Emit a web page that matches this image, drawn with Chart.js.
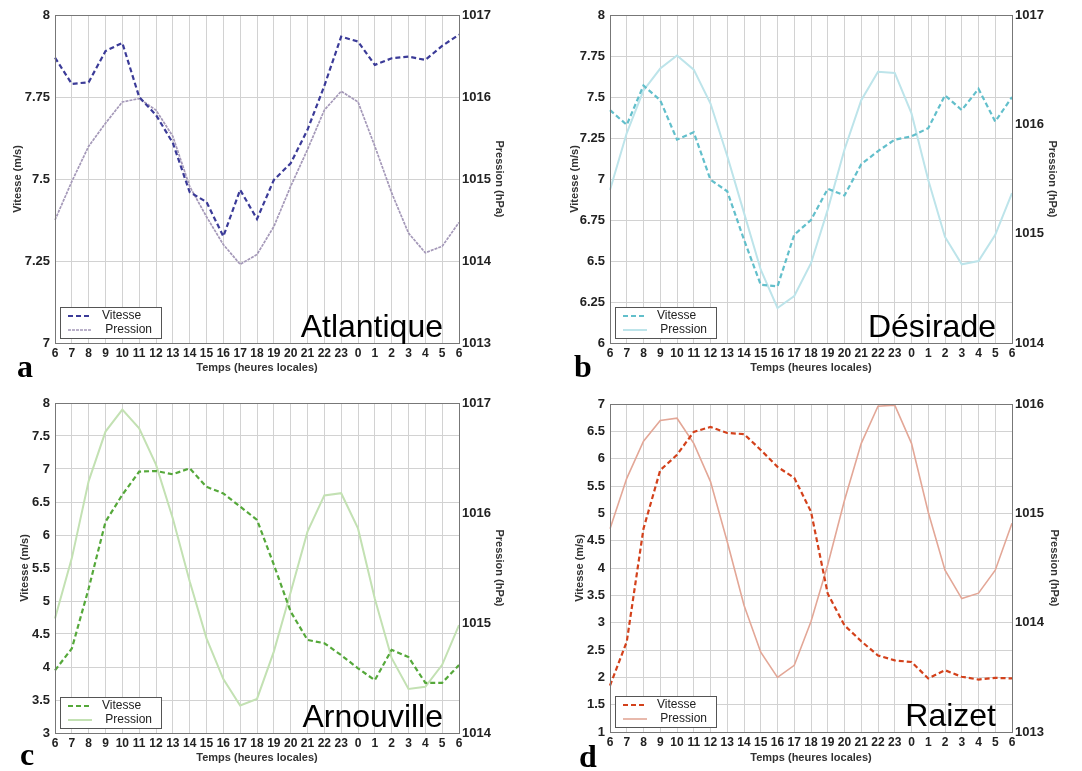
<!DOCTYPE html>
<html>
<head>
<meta charset="utf-8">
<script src="https://cdn.jsdelivr.net/npm/chart.js@4/dist/chart.umd.min.js"></script>
<style>
body{margin:0;background:#fff;width:1082px;height:771px;overflow:hidden;}
canvas{position:absolute;}
</style>
</head>
<body>
<canvas id="chart_a" width="540" height="385" style="left:0px;top:0px"></canvas>
<canvas id="chart_b" width="542" height="385" style="left:540px;top:0px"></canvas>
<canvas id="chart_c" width="540" height="386" style="left:0px;top:385px"></canvas>
<canvas id="chart_d" width="542" height="386" style="left:540px;top:385px"></canvas>
<script>
////data (heures locales, 6h -> 6h le lendemain)
var heures = ['6','7','8','9','10','11','12','13','14','15','16','17','18','19','20','21','22','23','0','1','2','3','4','5','6'];

var atlantique_vitesse = [7.87,7.79,7.795,7.89,7.915,7.75,7.695,7.61,7.46,7.43,7.325,7.467,7.378,7.497,7.548,7.65,7.784,7.934,7.919,7.848,7.868,7.873,7.863,7.906,7.94];
var atlantique_pression = [1014.50,1014.97,1015.40,1015.68,1015.94,1015.98,1015.84,1015.52,1014.91,1014.54,1014.20,1013.96,1014.08,1014.42,1014.91,1015.36,1015.84,1016.07,1015.94,1015.40,1014.83,1014.34,1014.10,1014.18,1014.47];

var desirade_vitesse = [7.42,7.33,7.57,7.48,7.24,7.285,6.995,6.925,6.63,6.355,6.345,6.66,6.75,6.94,6.90,7.09,7.17,7.24,7.26,7.31,7.51,7.42,7.55,7.35,7.50];
var desirade_pression = [1015.40,1015.92,1016.31,1016.51,1016.63,1016.50,1016.19,1015.71,1015.19,1014.67,1014.32,1014.43,1014.73,1015.22,1015.77,1016.22,1016.48,1016.47,1016.10,1015.49,1014.97,1014.72,1014.75,1014.99,1015.37];

var arnouville_vitesse = [3.95,4.28,5.19,6.20,6.61,6.96,6.97,6.92,7.01,6.73,6.63,6.43,6.23,5.55,4.84,4.41,4.36,4.18,3.98,3.80,4.26,4.15,3.76,3.76,4.03];
var arnouville_pression = [1015.04,1015.59,1016.29,1016.74,1016.94,1016.77,1016.44,1015.95,1015.38,1014.86,1014.49,1014.25,1014.31,1014.74,1015.28,1015.83,1016.16,1016.18,1015.86,1015.22,1014.68,1014.40,1014.42,1014.62,1014.98];

var raizet_vitesse = [1.85,2.65,4.72,5.79,6.07,6.49,6.58,6.47,6.45,6.16,5.85,5.65,5.03,3.53,2.95,2.66,2.40,2.31,2.28,1.98,2.13,2.01,1.96,1.99,1.98];
var raizet_pression = [1014.86,1015.32,1015.66,1015.85,1015.87,1015.64,1015.29,1014.74,1014.16,1013.73,1013.50,1013.61,1014.01,1014.53,1015.12,1015.64,1015.98,1015.99,1015.64,1015.01,1014.48,1014.22,1014.27,1014.48,1014.91];
///////////////

////decorations: frame, legend box, station name, panel letter
var deco = {
    id: 'deco',
    afterDraw: function(chart, args, opts){
        var ctx = chart.ctx;
        var a = chart.chartArea;
        ctx.save();
        //plot frame
        ctx.strokeStyle = '#777';
        ctx.lineWidth = 1;
        ctx.strokeRect(a.left+0.5, a.top+0.5, a.right-a.left, a.bottom-a.top);

        //station name
        ctx.fillStyle = '#000';
        ctx.font = '32px "Liberation Sans", Arial, sans-serif';
        ctx.textAlign = 'right';
        ctx.textBaseline = 'alphabetic';
        ctx.fillText(opts.name, a.right-16, a.bottom-6);

        //legend
        var bx = a.left+5, bw = 101, bh = 31, by = a.bottom-5-bh;
        ctx.fillStyle = '#fff';
        ctx.fillRect(bx, by, bw, bh);
        ctx.strokeStyle = '#555';
        ctx.strokeRect(bx+0.5, by+0.5, bw, bh);
        var rows = ['Vitesse',' Pression'];
        chart.data.datasets.forEach(function(ds, i){
            var ly = by + 9 + i*14;
            ctx.strokeStyle = ds.borderColor;
            ctx.lineWidth = ds.borderWidth;
            ctx.setLineDash(ds.borderDash || []);
            ctx.beginPath();
            ctx.moveTo(bx+8, ly);
            ctx.lineTo(bx+32, ly);
            ctx.stroke();
            ctx.setLineDash([]);
            ctx.fillStyle = '#222';
            ctx.font = '12px "Liberation Sans", Arial, sans-serif';
            ctx.textAlign = 'left';
            ctx.textBaseline = 'middle';
            ctx.fillText(rows[i], bx+42, ly);
        });

        //panel letter
        ctx.fillStyle = '#000';
        ctx.font = 'bold 32px "Liberation Serif", "DejaVu Serif", serif';
        ctx.textAlign = 'left';
        ctx.textBaseline = 'alphabetic';
        ctx.fillText(opts.letter, opts.letterX, opts.letterY);
        ctx.restore();
    }
};

var xFont = {family:'"Liberation Sans", Arial, sans-serif', size:12, weight:'bold'};
var yFont = {family:'"Liberation Sans", Arial, sans-serif', size:13, weight:'bold'};
var titleFont = {family:'"Liberation Sans", Arial, sans-serif', size:11, weight:'bold'};

function make_panel(id, p){
    return new Chart(document.getElementById(id), {
        type: 'line',
        data: {
            labels: heures,
            datasets: [{
                label: 'Vitesse',
                data: p.vitesse,
                yAxisID: 'y',
                borderColor: p.c1,
                borderWidth: 2.2,
                borderDash: [5,3],
                pointRadius: 0,
                tension: 0
            },{
                label: 'Pression',
                data: p.pression,
                yAxisID: 'y1',
                borderColor: p.c2,
                borderWidth: p.w2,
                borderDash: p.dash2,
                pointRadius: 0,
                tension: 0
            }]
        },
        options: {
            responsive: false,
            animation: false,
            devicePixelRatio: 1,
            layout: {padding: p.pad},
            plugins: {
                legend: {display:false},
                tooltip: {enabled:false},
                deco: {name:p.name, letter:p.letter, letterX:p.lx, letterY:p.ly}
            },
            scales: {
                x: {
                    offset: false,
                    grid: {color:'#d2d2d2', drawTicks:false},
                    border: {display:false},
                    ticks: {autoSkip:false, maxRotation:0, padding:3, color:'#222', font:xFont},
                    title: {display:true, text:'Temps (heures locales)', color:'#333', font:titleFont, padding:0},
                    afterFit: function(s){ s.height = p.xh; }
                },
                y: {
                    position: 'left',
                    min: p.ymin, max: p.ymax,
                    grid: {color:'#d2d2d2', drawTicks:false},
                    border: {display:false},
                    ticks: {stepSize:p.ystep, padding:5, color:'#222', font:yFont, callback:function(v){ return String(v); }},
                    title: {display:true, text:'Vitesse (m/s)', color:'#333', font:titleFont, padding:0},
                    afterFit: function(s){ s.width = p.yw; }
                },
                y1: {
                    position: 'right',
                    min: p.pmin, max: p.pmax,
                    grid: {drawOnChartArea:false, drawTicks:false},
                    border: {display:false},
                    ticks: {stepSize:1, padding:3, color:'#222', font:yFont, callback:function(v){ return String(v); }},
                    title: {display:true, text:'Pression (hPa)', color:'#333', font:titleFont, padding:0},
                    afterFit: function(s){ s.width = p.y1w; }
                }
            }
        },
        plugins: [deco]
    });
}

////four stations
make_panel('chart_a', {
    vitesse: atlantique_vitesse, pression: atlantique_pression,
    c1:'#3b3b98', c2:'#a498b8', w2:1.7, dash2:[3,1],
    ymin:7, ymax:8, ystep:0.25, pmin:1013, pmax:1017,
    pad:{left:11, right:34, top:15, bottom:10}, yw:44, y1w:47, xh:32,
    name:'Atlantique', letter:'a', lx:17, ly:377
});
make_panel('chart_b', {
    vitesse: desirade_vitesse, pression: desirade_pression,
    c1:'#62bfcb', c2:'#bde4ea', w2:2, dash2:[],
    ymin:6, ymax:8, ystep:0.25, pmin:1014, pmax:1017,
    pad:{left:28, right:23, top:15, bottom:10}, yw:42, y1w:47, xh:32,
    name:'Désirade', letter:'b', lx:34, ly:377
});
make_panel('chart_c', {
    vitesse: arnouville_vitesse, pression: arnouville_pression,
    c1:'#55a83a', c2:'#c3e1b3', w2:2, dash2:[],
    ymin:3, ymax:8, ystep:0.5, pmin:1014, pmax:1017,
    pad:{left:18, right:34, top:18, bottom:6}, yw:37, y1w:47, xh:32,
    name:'Arnouville', letter:'c', lx:20, ly:380
});
make_panel('chart_d', {
    vitesse: raizet_vitesse, pression: raizet_pression,
    c1:'#d3411b', c2:'#e3a797', w2:1.6, dash2:[],
    ymin:1, ymax:7, ystep:0.5, pmin:1013, pmax:1016,
    pad:{left:33, right:21, top:19, bottom:6}, yw:37, y1w:49, xh:33,
    name:'Raizet', letter:'d', lx:39, ly:382
});
</script>
</body>
</html>
